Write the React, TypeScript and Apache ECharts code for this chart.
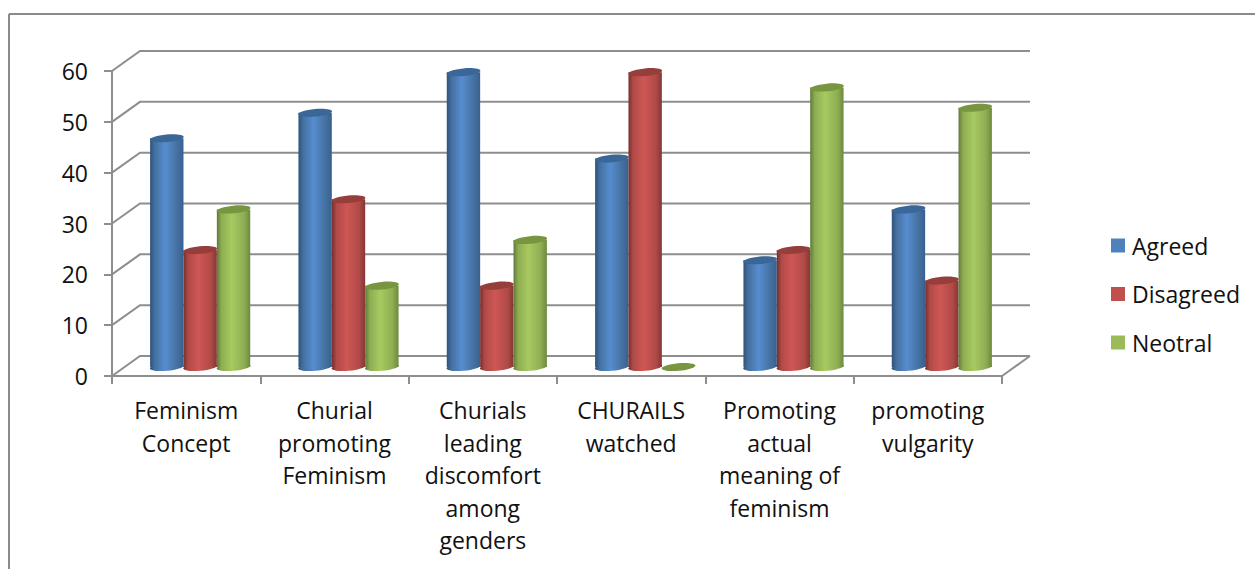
import React, { useEffect, useRef } from "react";
import * as echarts from "echarts";

const categories = [
  "Feminism\nConcept",
  "Churial\npromoting\nFeminism",
  "Churials\nleading\ndiscomfort\namong\ngenders",
  "CHURAILS\nwatched",
  "Promoting\nactual\nmeaning of\nfeminism",
  "promoting\nvulgarity",
];
const agreed = [45, 50, 58, 41, 21, 31];
const disagreed = [23, 33, 16, 58, 23, 17];
const neotral = [31, 16, 25, 0, 55, 51];
const yTicks = [0, 10, 20, 30, 40, 50, 60];

const FONT = "Open Sans";
const GREY = "#8e8e8e";
const DEPTH_X = 28;
const DEPTH_Y = -20;
const BAR_DX = 14;
const BAR_DY = -9;
const BAR_RATIO = 0.225;
const TILT = 0.09;

const grad = (stops: string[]) => ({
  type: "linear",
  x: 0,
  y: 0,
  x2: 1,
  y2: 0,
  colorStops: [
    { offset: 0, color: stops[0] },
    { offset: 0.14, color: stops[1] },
    { offset: 0.45, color: stops[2] },
    { offset: 0.82, color: stops[1] },
    { offset: 1, color: stops[3] },
  ],
});

const cylinder = (values: number[], name: string, index: number, swatch: string, stops: string[], top: string) => ({
  type: "custom",
  name,
  z: 3,
  itemStyle: { color: swatch },
  data: values.map((v, i) => [i, v]),
  encode: { x: 0, y: 1 },
  renderItem: (_p: any, api: any) => {
    const cat = api.value(0);
    const val = api.value(1);
    const w = api.size([1, 0])[0] * BAR_RATIO;
    const [cx0, yTop0] = api.coord([cat, val]);
    const [, yBase0] = api.coord([cat, 0]);
    const cx = cx0 + BAR_DX + (index - 1) * w;
    const yTop = yTop0 + BAR_DY;
    const yBase = yBase0 + BAR_DY;
    const rx = w / 2 + 0.3;
    const ry = 3.8;
    const ell = (y: number, fill: any) => ({
      type: "group",
      x: cx,
      y,
      rotation: TILT,
      children: [{ type: "ellipse", shape: { cx: 0, cy: 0, rx, ry }, style: { fill } }],
    });
    const g = grad(stops);
    const children: any[] = [];
    if (val > 0) {
      children.push(ell(yBase, g));
      children.push({
        type: "rect",
        shape: { x: cx - w / 2, y: yTop, width: w, height: yBase - yTop },
        style: { fill: g },
      });
    }
    children.push(ell(yTop, top));
    return { type: "group", children };
  },
});

export default function App() {
  const ref = useRef<HTMLDivElement>(null);
  useEffect(() => {
    const chart = echarts.init(ref.current!, null, { renderer: "svg" });
    chart.setOption({
      animation: false,
      backgroundColor: "#ffffff",
      textStyle: { fontFamily: FONT },
      grid: { left: 112, right: 253, top: 71, bottom: 193, containLabel: false },
      graphic: [
        { type: "line", shape: { x1: 9, y1: 14, x2: 1255, y2: 14 }, style: { stroke: "#8a8a8a", lineWidth: 2 } },
        { type: "line", shape: { x1: 9, y1: 14, x2: 9, y2: 569 }, style: { stroke: "#8a8a8a", lineWidth: 2 } },
      ],
      legend: {
        show: true,
        orient: "vertical",
        left: 1106,
        top: 229,
        itemWidth: 14,
        itemHeight: 14,
        itemGap: 25.5,
        icon: "rect",
        data: ["Agreed", "Disagreed", "Neotral"],
        textStyle: { fontFamily: FONT, fontSize: 23, color: "#111111", padding: [0, 0, 0, 2] },
      },
      xAxis: {
        type: "category",
        data: categories,
        axisLine: { show: true, lineStyle: { color: GREY, width: 2 } },
        axisTick: { show: true, length: 8, lineStyle: { color: GREY, width: 2 } },
        axisLabel: {
          interval: 0,
          fontFamily: FONT,
          fontSize: 23,
          color: "#111111",
          lineHeight: 32.5,
          margin: 18,
          verticalAlign: "top",
        },
      },
      yAxis: {
        type: "value",
        min: 0,
        max: 60,
        interval: 10,
        axisLine: { show: true, lineStyle: { color: GREY, width: 2 } },
        axisTick: { show: true, length: 8, lineStyle: { color: GREY, width: 2 } },
        axisLabel: { fontFamily: FONT, fontSize: 23, color: "#111111", margin: 24 },
        splitLine: { show: false },
      },
      series: [
        {
          type: "custom",
          name: "walls",
          z: 1,
          silent: true,
          data: yTicks.map((v) => [0, v]),
          encode: { x: 0, y: 1 },
          renderItem: (p: any, api: any) => {
            const sys = p.coordSys;
            const y = api.coord([0, api.value(1)])[1];
            const xl = sys.x;
            const xr = sys.x + sys.width;
            const style = { stroke: GREY, lineWidth: 2, fill: "none" };
            const children: any[] = [
              {
                type: "polyline",
                shape: { points: [[xl, y], [xl + DEPTH_X, y + DEPTH_Y], [xr + DEPTH_X, y + DEPTH_Y]] },
                style,
              },
            ];
            if (api.value(1) === 0) {
              children.push({
                type: "line",
                shape: { x1: xr, y1: y, x2: xr + DEPTH_X, y2: y + DEPTH_Y },
                style,
              });
            }
            return { type: "group", children };
          },
        },
        cylinder(agreed, "Agreed", 0, "#4f81bd", ["#2f5279", "#44709f", "#568dd0", "#38608f"], "#3a6797"),
        cylinder(disagreed, "Disagreed", 1, "#c0504d", ["#752f2d", "#b04a47", "#cf5754", "#843735"], "#963e3c"),
        cylinder(neotral, "Neotral", 2, "#9bbb59", ["#5f7a3a", "#8fad52", "#a6ca60", "#6c8a3e"], "#789540"),
      ],
    });
    return () => chart.dispose();
  }, []);
  return <div ref={ref} style={{ position: "absolute", left: 0, top: 0, width: 1255, height: 569 }} />;
}
